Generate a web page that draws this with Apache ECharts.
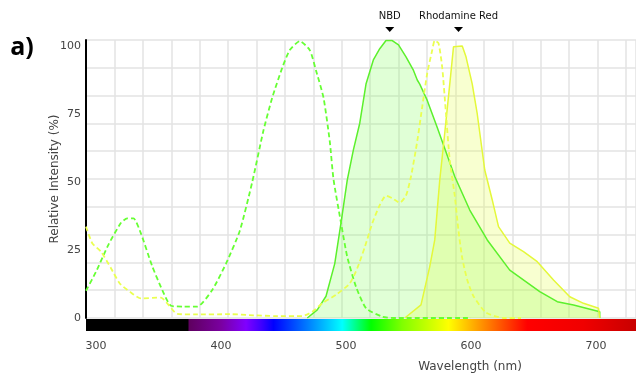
<!DOCTYPE html>
<html><head><meta charset="utf-8">
<script src="https://cdn.jsdelivr.net/npm/echarts@6/dist/echarts.min.js"></script>
<style>html,body{margin:0;padding:0;background:#fff}#c{width:636px;height:374px}</style>
</head><body><div id="c"></div>
<script>
// ---- data ----
const xTicks = [300, 400, 500, 600, 700];
const yTicks = [0, 25, 50, 75, 100];

const nbdExX = [292,300,310,320,325,330,336,345,353,360,370,381,393,404,415,425,434,441,449,455,463,471,476,482,487,490,496,501,508,516,529,540,600];
const nbdExY = [10,17,27,35,36.6,36.6,31,19,10.3,4.5,4.2,4.2,10.3,20,32,50,69,81,92,98.5,101.8,98.5,91,81,65,51,35,22.5,11.5,3.6,0.5,0,0];

const nbdEmX = [469,477,484,491,496,501,506,511,516,522,527,532,537,542,548,554,557,559,565,573,580,587,599,613,631,655,669,682,703,703];
const nbdEmY = [0,3,8,20,35,50.7,62,71.6,86,95,99,102,102,100.4,96,91,87.5,86,80,70,61,52,39.7,28.7,17.6,9.7,6,4.8,2.3,0];

const rrExX = [292,297,304,312,319,327,336,352,357,365,380,407,426,444,465,473,481,492,503,509,515,521,527,532,537,543,548,552,557,561,565,569,571,574,577,580,583,587,590,593,597,602,612,626,640];
const rrExY = [33.6,27.5,24.4,18.3,12.7,9.7,7.2,7.5,5.4,1.5,1.3,1.4,1,0.7,0.7,2.3,5.4,8.5,12.7,18.3,26,34.8,41.5,45,44,42.4,45,52,65,77.7,90,98.5,102,101,92,75,58,45,32,22,14,8,2,0,0];

const rrEmX = [547,560,567,571,575,579,583,586,593,596,601,605,611,617,622,631,642,653,666,679,690,702,703];
const rrEmY = [0,4.8,18.9,28.7,50.7,68,86,99.7,100,96,86,75,54.4,43.4,33.6,27.5,24.4,20.7,14,7.8,5.4,3.6,0];

const markerNames = ['NBD', 'Rhodamine Red'];
const markerPeaks = [535, 590];

const spectrumNm =     [374,      400,      420,      432,      442,      470,      497,      520,      545,      582,      605,      625,      645,      690,      732];
const spectrumColors = ['#5e005e','#7a00a0','#8000ff','#4000ff','#0000ff','#0080ff','#00ffff','#00ff00','#80ff00','#ffff00','#ffa000','#ff5000','#ff0000','#f00000','#c80000'];

// ---- chart ----
function pairs(xs, ys) { return xs.map((x, i) => [x, ys[i]]); }
const font = 'DejaVu Sans';
const chart = echarts.init(document.getElementById('c'), null, {renderer: 'canvas'});
const X_MIN = 292, X_MAX = 732;

chart.setOption({
  animation: false,
  grid: {left: 86, right: 0, top: 40, bottom: 56, containLabel: false},
  xAxis: [
    {type: 'value', min: X_MIN, max: X_MAX, axisLine: {show: false}, axisTick: {show: false},
     splitLine: {show: false},
     axisLabel: {customValues: xTicks, margin: 23, color: '#444', fontFamily: font, fontSize: 11}},
    {type: 'value', min: 0, max: 550 / 28.42, interval: 1, axisLine: {show: false}, axisTick: {show: false},
     axisLabel: {show: false}, splitLine: {show: true, lineStyle: {color: '#e3e3e3', width: 1.5}}}
  ],
  yAxis: [
    {type: 'value', min: 0, max: 102.2, axisLine: {show: true, lineStyle: {color: '#000', width: 2}},
     axisTick: {show: false}, splitLine: {show: false},
     axisLabel: {customValues: yTicks, margin: 5, color: '#444', fontFamily: font, fontSize: 11},
     name: 'Relative Intensity (%)', nameLocation: 'middle', nameGap: 25, nameMoveOverlap: false,
     nameTextStyle: {color: '#444', fontFamily: font, fontSize: 12}},
    {type: 'value', min: 0, max: 10, interval: 1, axisLine: {show: false}, axisTick: {show: false},
     axisLabel: {show: false}, splitLine: {show: true, lineStyle: {color: '#e3e3e3', width: 1.5}}}
  ],
  series: [
    {type: 'line', name: 'NBD Em', data: pairs(nbdEmX, nbdEmY), symbol: 'none',
     lineStyle: {color: '#5cf02c', width: 1.5}, areaStyle: {color: 'rgba(110,255,60,0.3)'}, z: 2},
    {type: 'line', name: 'Rhodamine Red Em', data: pairs(rrEmX, rrEmY), symbol: 'none',
     lineStyle: {color: '#e4f83a', width: 1.5}, areaStyle: {color: 'rgba(225,255,50,0.33)'}, z: 2},
    {type: 'line', name: 'NBD Ex', data: pairs(nbdExX, nbdExY), symbol: 'none', smooth: 0.2,
     lineStyle: {color: '#66ff33', width: 1.8, type: [5, 3]}, z: 3},
    {type: 'line', name: 'Rhodamine Red Ex', data: pairs(rrExX, rrExY), symbol: 'none', smooth: 0.2,
     lineStyle: {color: '#eaff50', width: 1.8, type: [5, 3]}, z: 3}
  ]
});

function px(nm) { return chart.convertToPixel({xAxisIndex: 0}, nm); }
const x0 = px(X_MIN), x1 = px(X_MAX), xs = px(spectrumNm[0]);
const yBase = chart.convertToPixel({yAxisIndex: 0}, 0);
const graphics = [];
graphics.push({type: 'rect', shape: {x: x0, y: yBase + 1, width: x1 - x0, height: 12}, style: {fill: '#000'}, z: 1});
graphics.push({type: 'rect', shape: {x: xs, y: yBase + 1, width: x1 - xs, height: 12},
  style: {fill: new echarts.graphic.LinearGradient(0, 0, 1, 0,
    spectrumNm.map((nm, i) => ({offset: (px(nm) - xs) / (x1 - xs), color: spectrumColors[i]})))}, z: 2});
markerNames.forEach((n, i) => {
  const x = px(markerPeaks[i]);
  graphics.push({type: 'text', x: x, y: 16, style: {text: n, fill: '#111', font: '10px "DejaVu Sans"', align: 'center', verticalAlign: 'middle'}, z: 5});
  graphics.push({type: 'polygon', shape: {points: [[x - 4.5, 27], [x + 4.5, 27], [x, 32]]}, style: {fill: '#000'}, z: 5});
});
graphics.push({type: 'text', x: 22, y: 48, style: {text: 'a)', fill: '#000', font: 'bold 25px "Open Sans"', align: 'center', verticalAlign: 'middle'}, z: 5});
graphics.push({type: 'text', x: 470, y: 367, style: {text: 'Wavelength (nm)', fill: '#444', font: '12px "DejaVu Sans"', align: 'center', verticalAlign: 'middle'}, z: 5});
chart.setOption({graphic: graphics});
</script>
</body></html>
